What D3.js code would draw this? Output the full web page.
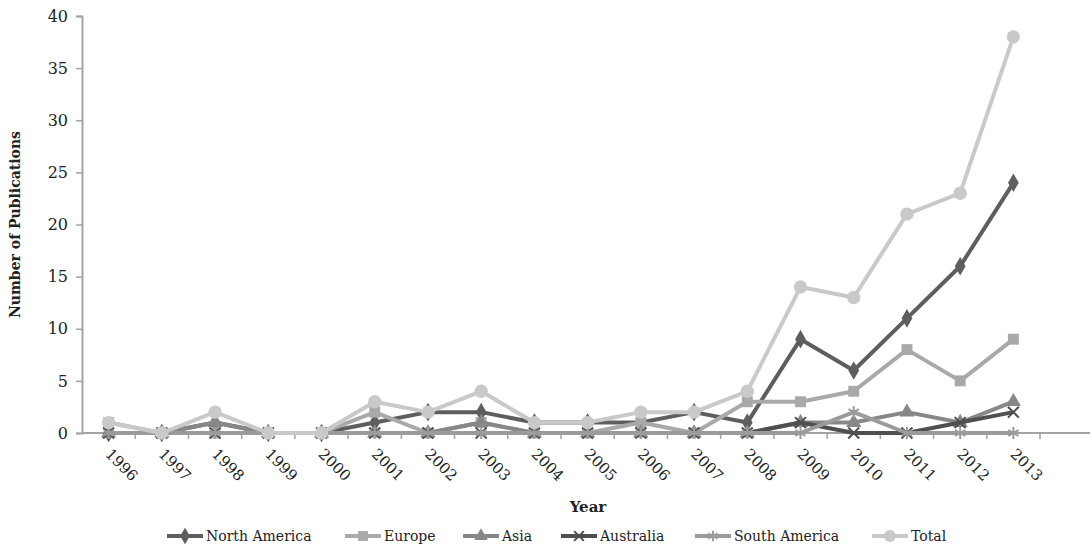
<!DOCTYPE html>
<html><head><meta charset="utf-8">
<script src="https://cdn.jsdelivr.net/npm/d3@7"></script>
<style>body{margin:0;background:#fff;}svg{display:block;}</style>
</head><body>
<script>
const years = ["1996","1997","1998","1999","2000","2001","2002","2003","2004","2005","2006","2007","2008","2009","2010","2011","2012","2013"];
const northAmerica = [0,0,1,0,0,1,2,2,1,1,1,2,1,9,6,11,16,24];
const europe       = [1,0,0,0,0,2,0,1,0,0,1,0,3,3,4,8,5,9];
const asia         = [0,0,1,0,0,0,0,1,0,0,0,0,0,1,1,2,1,3];
const australia    = [0,0,0,0,0,0,0,0,0,0,0,0,0,1,0,0,1,2];
const southAmerica = [0,0,0,0,0,0,0,0,0,0,0,0,0,0,2,0,0,0];
const total        = [1,0,2,0,0,3,2,4,1,1,2,2,4,14,13,21,23,38];
const yTicks = [0,5,10,15,20,25,30,35,40];
const seriesNames = ["North America","Europe","Asia","Australia","South America","Total"];

const W = 1092, H = 550;
const m = {left: 82, top: 16, right: 52, bottom: 117};
const svg = d3.select("body").append("svg").attr("width", W).attr("height", H);
const font = "'DejaVu Serif', serif";
const textColor = "#222";

const x = d3.scaleBand().domain(years).range([m.left, W - m.right]);
const y = d3.scaleLinear().domain([0, 40]).range([H - m.bottom, m.top]);
const cx = d => x(d) + x.bandwidth() / 2;

const series = [
  {name: seriesNames[0], values: northAmerica, color: "#5e5e5e", sym: d3.symbolDiamond, size: 100, stroke: false},
  {name: seriesNames[1], values: europe,       color: "#a9a9a9", sym: d3.symbolSquare, size: 120, stroke: false},
  {name: seriesNames[2], values: asia,         color: "#878787", sym: d3.symbolTriangle, size: 100, stroke: false},
  {name: seriesNames[3], values: australia,    color: "#4f4f4f", sym: d3.symbolX, size: 80, stroke: true},
  {name: seriesNames[4], values: southAmerica, color: "#9b9b9b", sym: d3.symbolAsterisk, size: 100, stroke: true},
  {name: seriesNames[5], values: total,        color: "#c9c9c9", sym: d3.symbolCircle, size: 140, stroke: false}
];

const axisColor = "#a3a3a3";
// Y axis
const yAxis = svg.append("g").attr("transform", `translate(${m.left},0)`)
  .call(d3.axisLeft(y).tickValues(yTicks).tickSize(6).tickPadding(8));
yAxis.select(".domain").attr("stroke", axisColor).attr("stroke-width", 2);
yAxis.selectAll(".tick line").attr("stroke", axisColor).attr("stroke-width", 1.5);
yAxis.selectAll("text").attr("font-family", font).attr("font-size", 16).attr("fill", textColor);

// X axis (ticks between categories)
const xAxisG = svg.append("g").attr("transform", `translate(0,${y(0)})`);
xAxisG.append("line").attr("x1", m.left).attr("x2", W - 2).attr("stroke", axisColor).attr("stroke-width", 2);
const xAxis = xAxisG.append("g").call(d3.axisBottom(x).tickSize(0).tickPadding(0));
xAxis.select(".domain").remove();
const bounds = years.map(d => x(d) + x.bandwidth());
xAxisG.selectAll("line.tk").data(bounds).enter().append("line").attr("class","tk")
  .attr("x1", d => d).attr("x2", d => d).attr("y1", 0).attr("y2", 6)
  .attr("stroke", axisColor).attr("stroke-width", 1.5);
xAxis.selectAll(".tick text")
  .attr("font-family", font).attr("font-size", 15).attr("fill", textColor)
  .attr("text-anchor", "start").attr("dy", 0)
  .attr("transform", "translate(-4,22) rotate(45)");

// axis titles
svg.append("text").attr("transform", `translate(20,${(m.top + y(0)) / 2}) rotate(-90)`)
  .attr("text-anchor", "middle").attr("font-family", font).attr("font-weight", "bold")
  .attr("font-size", 14).attr("fill", textColor).text("Number of Publications");
svg.append("text").attr("x", 588).attr("y", 512).attr("text-anchor", "middle")
  .attr("font-family", font).attr("font-weight", "bold").attr("font-size", 15)
  .attr("fill", textColor).text("Year");

// lines and markers
const line = d3.line().x((d, i) => cx(years[i])).y(d => y(d));
series.forEach(s => {
  const g = svg.append("g");
  g.append("path").datum(s.values).attr("d", line).attr("fill", "none")
    .attr("stroke", s.color).attr("stroke-width", 4).attr("stroke-linejoin", "round");
  g.selectAll("path.mk").data(s.values).enter().append("path").attr("class", "mk")
    .attr("transform", (d, i) => `translate(${cx(years[i])},${y(d)})`)
    .attr("d", d3.symbol().type(s.sym).size(s.size))
    .attr("fill", s.stroke ? "none" : s.color)
    .attr("stroke", s.color).attr("stroke-width", s.stroke ? 2 : 0);
});

// legend
const legendX = [167, 345, 463, 561, 695, 872];
const lg = svg.append("g").attr("transform", "translate(0,536)");
series.forEach((s, i) => {
  const g = lg.append("g").attr("transform", `translate(${legendX[i]},0)`);
  g.append("line").attr("x1", 0).attr("x2", 36).attr("stroke", s.color).attr("stroke-width", 4);
  g.append("path").attr("transform", "translate(18,0)")
    .attr("d", d3.symbol().type(s.sym).size(s.size * 0.8))
    .attr("fill", s.stroke ? "none" : s.color).attr("stroke", s.color).attr("stroke-width", s.stroke ? 2 : 0);
  g.append("text").attr("x", 39).attr("y", 5).attr("font-family", font).attr("font-size", 14)
    .attr("fill", textColor).text(s.name);
});
</script>
</body></html>
